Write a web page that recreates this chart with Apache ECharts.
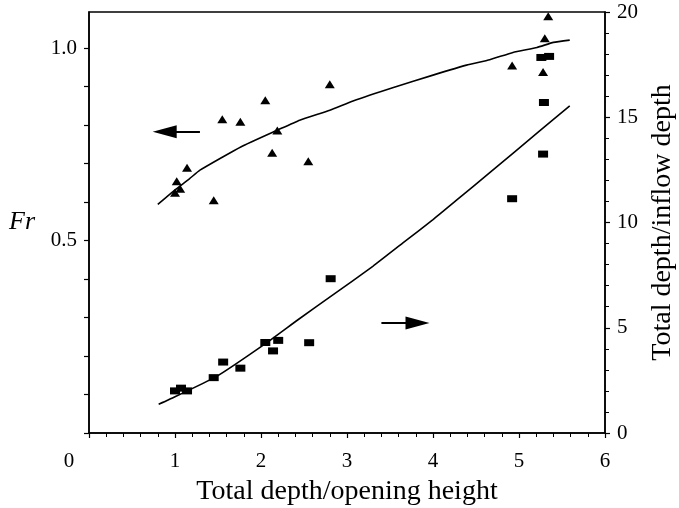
<!DOCTYPE html>
<html>
<head>
<meta charset="utf-8">
<script src="https://cdn.jsdelivr.net/npm/echarts@6/dist/echarts.min.js"></script>
<style>
  html, body { margin: 0; padding: 0; background: #fff; }
  #chart { width: 679px; height: 508px; }
</style>
</head>
<body>
<div id="chart"></div>
<script>
// measured points: [total depth/opening height, value]
var frPoints = [
    [1.00, 0.624], [1.02, 0.654], [1.06, 0.635], [1.14, 0.689], [1.45, 0.605],
    [1.55, 0.815], [1.76, 0.809], [2.05, 0.865], [2.13, 0.728], [2.19, 0.786],
    [2.55, 0.706], [2.80, 0.906], [4.92, 0.955], [5.28, 0.938], [5.30, 1.026],
    [5.34, 1.083]
];
var ratioPoints = [
    [1.00, 2.00], [1.07, 2.13], [1.14, 2.00], [1.45, 2.63], [1.56, 3.37],
    [1.76, 3.08], [2.05, 4.30], [2.14, 3.90], [2.20, 4.40], [2.56, 4.29],
    [2.81, 7.33], [4.92, 11.13], [5.28, 13.25], [5.29, 15.70], [5.26, 17.84],
    [5.35, 17.89]
];
// fitted curves
var frCurve = [
    [0.80, 0.594], [0.98, 0.628], [1.17, 0.661], [1.29, 0.683], [1.77, 0.744],
    [2.20, 0.788], [2.45, 0.813], [2.80, 0.839], [3.07, 0.863], [3.54, 0.898],
    [4.00, 0.930], [4.39, 0.956], [4.66, 0.970], [4.93, 0.989], [5.21, 1.002],
    [5.40, 1.015], [5.59, 1.021]
];
var ratioCurve = [
    [0.81, 1.37], [0.92, 1.57], [1.48, 2.68], [2.06, 4.27], [2.43, 5.38],
    [2.84, 6.57], [3.30, 7.92], [3.65, 9.03], [4.00, 10.14], [4.27, 11.05],
    [4.66, 12.37], [5.24, 14.35], [5.59, 15.54]
];
// arrows pointing to the axis each curve belongs to (end = centre of the head)
var frArrow = [[1.29, 0.783], [0.88, 0.783]];
var ratioArrow = [[3.40, 5.22], [3.82, 5.22]];
var frLabels = { '0.5': '0.5', '1.0': '1.0' };

var font = 'Liberation Serif';
var axisLine = { show: true, lineStyle: { color: '#000', width: 1.5 } };
var tick = { show: true, inside: false, length: 5, lineStyle: { color: '#000', width: 1.2 } };
var minor = { show: true, splitNumber: 5, length: 4, lineStyle: { color: '#000', width: 1 } };

var arrowLine = function(pts){
    return {
        silent: true,
        symbol: ['none', 'triangle'],
        symbolSize: [13, 24],
        label: { show: false },
        itemStyle: { color: '#000' },
        lineStyle: { color: '#000', width: 2, type: 'solid' },
        data: [[{ coord: pts[0] }, { coord: pts[1] }]]
    };
};

var myChart = echarts.init(document.getElementById('chart'));
myChart.setOption({
    animation: false,
    backgroundColor: '#fff',
    grid: {
        left: 89, right: 74, top: 12, bottom: 75, outerBoundsMode: 'none',
        show: true, borderColor: '#000', borderWidth: 1.5
    },
    xAxis: {
        type: 'value', min: 0, max: 6, interval: 1,
        name: 'Total depth/opening height', nameLocation: 'middle', nameGap: 45,
        nameTextStyle: { fontFamily: font, fontSize: 28, color: '#000' },
        axisLine: axisLine, axisTick: tick, minorTick: minor,
        splitLine: { show: false },
        axisLabel: {
            margin: 18, fontFamily: font, fontSize: 21, color: '#000',
            formatter: function(v){ return v === 0 ? '{z|0}' : String(v); },
            rich: { z: { fontFamily: font, fontSize: 21, color: '#000', padding: [0, 40, 0, 0] } }
        }
    },
    yAxis: [{
        type: 'value', position: 'left', min: 0, max: 1.094, interval: 0.1,
        name: 'Fr', nameLocation: 'middle', nameRotate: 0, nameGap: 54,
        nameTextStyle: { fontFamily: font, fontSize: 26, fontStyle: 'italic', color: '#000' },
        axisLine: axisLine, axisTick: tick,
        splitLine: { show: false },
        axisLabel: {
            margin: 12, fontFamily: font, fontSize: 21, color: '#000', showMaxLabel: false,
            formatter: function(v){ return frLabels[v.toFixed(1)] && Math.abs(v * 10 - Math.round(v * 10)) < 1e-6 ? frLabels[v.toFixed(1)] : ''; }
        }
    }, {
        type: 'value', position: 'right', min: 0, max: 20, interval: 5,
        name: 'Total depth/inflow depth', nameLocation: 'middle', nameRotate: 90, nameGap: 36,
        nameTextStyle: { fontFamily: font, fontSize: 28, color: '#000' },
        axisLine: axisLine, axisTick: tick, minorTick: minor,
        splitLine: { show: false },
        axisLabel: { margin: 12, fontFamily: font, fontSize: 21, color: '#000' }
    }],
    series: [{
        type: 'scatter', yAxisIndex: 0, data: frPoints,
        symbol: 'triangle', symbolSize: [10, 8],
        itemStyle: { color: '#000', opacity: 1 }
    }, {
        type: 'scatter', yAxisIndex: 1, data: ratioPoints,
        symbol: 'rect', symbolSize: [10, 7],
        itemStyle: { color: '#000', opacity: 1 }
    }, {
        type: 'line', yAxisIndex: 0, data: frCurve, smooth: 0.15, showSymbol: false,
        lineStyle: { color: '#000', width: 1.6 },
        markLine: arrowLine(frArrow)
    }, {
        type: 'line', yAxisIndex: 1, data: ratioCurve, smooth: 0.15, showSymbol: false,
        lineStyle: { color: '#000', width: 1.6 },
        markLine: arrowLine(ratioArrow)
    }]
});
</script>
</body>
</html>
